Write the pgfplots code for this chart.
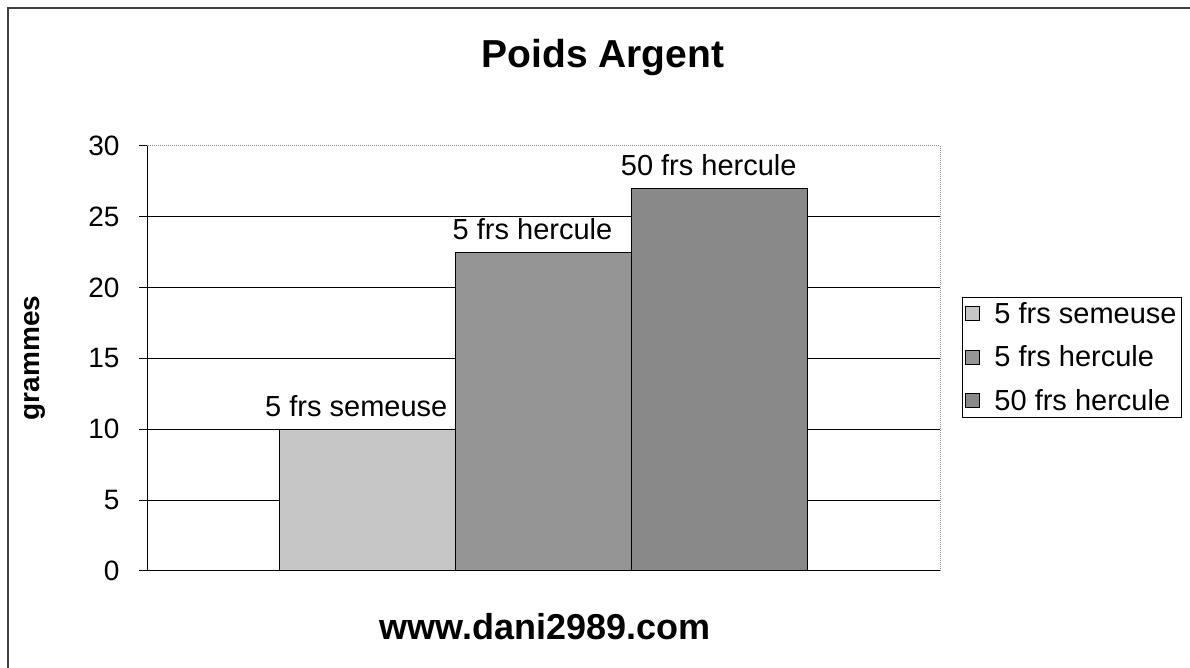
\documentclass[border=0pt]{standalone}
\usepackage{pgfplots}
\pgfplotsset{compat=1.18}
\usepackage{fontspec}
\setmainfont{Liberation Sans}
\definecolor{barA}{HTML}{C6C6C6}
\definecolor{barB}{HTML}{959595}
\definecolor{barC}{HTML}{898989}
\begin{document}
\begin{tikzpicture}[x=1pt,y=1pt]
\useasboundingbox (0,0) rectangle (1190,668);
\draw[line width=2pt, color=black!75] (8,0) -- (8,660) -- (1190,660);
\node[font=\fontsize{39}{46}\bfseries\selectfont] at (603,610) {Poids Argent};
\node[font=\fontsize{36}{43}\bfseries\selectfont] at (545,41) {www.dani2989.com};
\node[font=\fontsize{28}{34}\bfseries\selectfont, rotate=90] at (35,310) {grammes};
\begin{axis}[
  at={(147pt,97pt)}, anchor=south west,
  scale only axis, width=793pt, height=425pt,
  xmin=-1.25, xmax=3.25, ymin=0, ymax=30,
  xtick=\empty, ytick={0,5,...,30},
  ytick pos=left, tick align=outside, major tick length=8pt,
  tick style={black, line width=1pt},
  axis line style={draw=black!45, densely dotted, line width=1pt},
  extra y ticks={5,10,15,20,25}, extra y tick labels={},
  extra y tick style={grid=major, major grid style={black, solid, line width=1pt}},
  yticklabel style={font=\fontsize{28}{33}\selectfont, xshift=-16pt},
  /pgf/number format/assume math mode=true,
  legend style={at={(1.0277,0.6447)}, anchor=north west, draw=black, line width=1pt,
    font=\fontsize{29}{34}\selectfont, row sep=17pt, inner sep=3pt,
    /tikz/every odd column/.append style={column sep=12pt}},
  legend cell align=left,
  legend image code/.code={\draw[#1, line width=1pt] (0pt,-7pt) rectangle (14pt,7pt);},
  every node near coord/.append style={font=\fontsize{29}{34}\selectfont, yshift=9pt, xshift=-11pt, black},
]
\addplot[ybar, bar width=176pt, bar shift=0pt, fill=barA, draw=black, line width=1pt,
  nodes near coords={5 frs semeuse}] coordinates {(0,10)};
\addlegendentry{5 frs semeuse}
\addplot[ybar, bar width=176pt, bar shift=0pt, fill=barB, draw=black, line width=1pt,
  nodes near coords={5 frs hercule}] coordinates {(1,22.5)};
\addlegendentry{5 frs hercule}
\addplot[ybar, bar width=176pt, bar shift=0pt, fill=barC, draw=black, line width=1pt,
  nodes near coords={50 frs hercule}] coordinates {(2,27)};
\addlegendentry{50 frs hercule}
\draw[black, solid, line width=1pt] (rel axis cs:0,0) -- (rel axis cs:0,1);
\draw[black, solid, line width=1pt] (rel axis cs:0,0) -- (rel axis cs:1,0);
\end{axis}
\end{tikzpicture}
\end{document}
